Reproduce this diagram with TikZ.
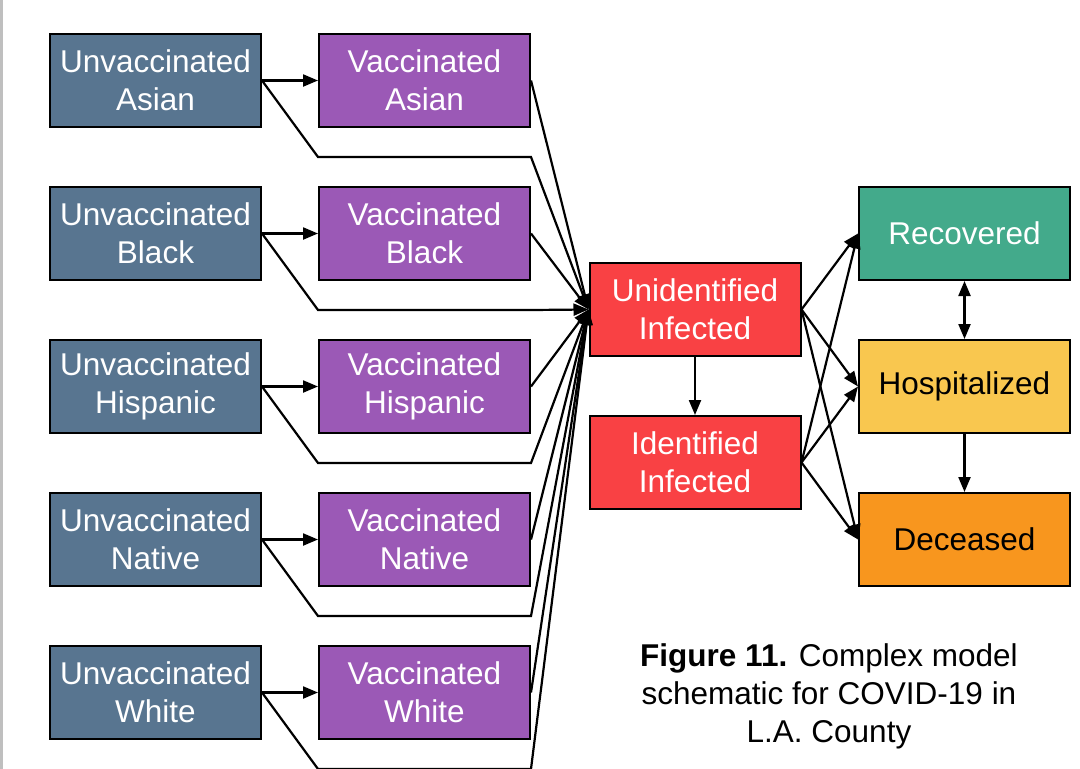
\documentclass[tikz,border=0pt]{standalone}
\usepackage{fontspec}
\setmainfont{Liberation Sans}
\usetikzlibrary{arrows.meta, positioning}

\definecolor{unvac}{HTML}{587590}
\definecolor{vac}{HTML}{9B59B6}
\definecolor{infect}{HTML}{F94144}
\definecolor{recov}{HTML}{43AA8B}
\definecolor{hosp}{HTML}{F9C74F}
\definecolor{dead}{HTML}{F8961E}

\begin{document}
\begin{tikzpicture}[x=1pt,y=-1pt,node distance=58pt,
        >={Triangle[length=15pt,width=12pt]},
        comp/.style={draw, line width=2pt, minimum width=211pt, minimum height=93pt, align=center,
            font=\fontsize{31.5}{38}\selectfont, text=white},
        flow/.style={->, line width=2.2pt}]
        \useasboundingbox (0,0) rectangle (1080,769);
        \clip (0,0) rectangle (1080,769);
        \fill[gray!50] (0,0) rectangle (3,769);
        % population compartments
        \node[comp, fill=unvac] (u-asian) at (155.5,80.5) {Unvaccinated\\Asian};
        \node[comp, fill=unvac, below=of u-asian] (u-black) {Unvaccinated\\Black};
        \node[comp, fill=unvac, below=of u-black] (u-hisp) {Unvaccinated\\Hispanic};
        \node[comp, fill=unvac, below=of u-hisp] (u-native) {Unvaccinated\\Native};
        \node[comp, fill=unvac, below=of u-native] (u-white) {Unvaccinated\\White};
        \node[comp, fill=vac, right=56pt of u-asian] (v-asian) {Vaccinated\\Asian};
        \node[comp, fill=vac, right=56pt of u-black] (v-black) {Vaccinated\\Black};
        \node[comp, fill=vac, right=56pt of u-hisp] (v-hisp) {Vaccinated\\Hispanic};
        \node[comp, fill=vac, right=56pt of u-native] (v-native) {Vaccinated\\Native};
        \node[comp, fill=vac, right=56pt of u-white] (v-white) {Vaccinated\\White};
        % disease states
        \node[comp, fill=infect] (unid) at (695,309.5) {Unidentified\\Infected};
        \node[comp, fill=infect, below=of unid] (ident) {Identified\\Infected};
        \node[comp, fill=hosp, text=black] (hosp) at (964.5,386.5) {Hospitalized};
        \node[comp, fill=recov, above=of hosp] (recov) {Recovered};
        \node[comp, fill=dead, text=black, below=of hosp] (dead) {Deceased};
        \node[align=center, font=\fontsize{31.5}{38}\selectfont] (caption) at (829,696)
            {\textbf{Figure 11.} Complex model\\schematic for COVID-19 in\\L.A. County};
        % transitions
        \foreach \r in {asian,black,hisp,native,white} {
            \draw[flow] (u-\r) -- (v-\r);
            \draw[flow] (u-\r.east) -- ([yshift=-29pt]v-\r.south west) -- ([yshift=-29pt]v-\r.south east) -- (unid.west);
            \draw[flow] (v-\r.east) -- (unid.west);
        }
        \draw[flow] (unid) -- (ident);
        \foreach \s in {unid,ident}
            \foreach \t in {recov,hosp,dead}
                \draw[flow] (\s.east) -- (\t.west);
        \draw[flow, <->] (recov) -- (hosp);
        \draw[flow] (hosp) -- (dead);
    \end{tikzpicture}
\end{document}
